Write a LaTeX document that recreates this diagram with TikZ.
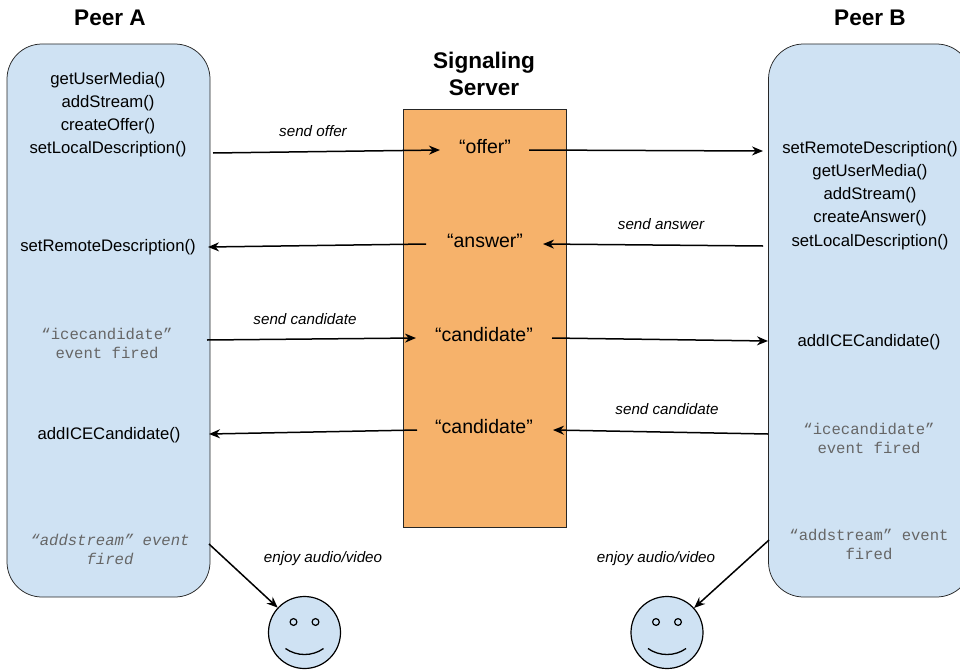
\documentclass[tikz,border=0pt]{standalone}
\usepackage{fontspec}
\setmainfont{Liberation Sans}
\setmonofont{Liberation Mono}
\usetikzlibrary{arrows.meta}
\definecolor{peerblue}{HTML}{CFE2F3}
\definecolor{serverorange}{HTML}{F6B26B}
\tikzset{x=1pt,y=-1pt,
 peer/.style={draw=black!85,line width=0.75pt,fill=peerblue,rounded corners=35pt,inner sep=0,minimum width=203pt,minimum height=553pt},
 lbl/.style={font=\fontsize{16.7}{23.1}\selectfont,align=center,inner sep=0},
 code/.style={font=\ttfamily\fontsize{15.6}{19}\selectfont,text=black!60,align=center,inner sep=0},
 caption/.style={font=\itshape\fontsize{15.2}{18}\selectfont,inner sep=0},
 head/.style={font=\bfseries\fontsize{22.6}{27}\selectfont,align=center,inner sep=0},
 msg/.style={font=\fontsize{19.5}{22}\selectfont,inner sep=0},
 link/.style={-{Stealth[length=11pt,width=9pt]},line width=1.5pt},
 face/.style={draw=black,line width=1.2pt,fill=peerblue,circle,minimum size=72pt,inner sep=0}}
\begin{document}
\begin{tikzpicture}
\useasboundingbox (0,0) rectangle (960,669);
\node[peer] (A) at (108.5,320.5) {};
\node[peer] (B) at (870,320.5) {};
\node[draw=black!85,line width=0.75pt,fill=serverorange,minimum width=163pt,minimum height=418pt,inner sep=0] (S) at (484.5,318.5) {};
\node[head] (ha) at (110,18) {Peer A};
\node[head] (hb) at (870,18) {Peer B};
\node[head] (hs) at (484,74) {Signaling\\Server};
\node[lbl] (a1) at (108,115) {getUserMedia()\\addStream()\\createOffer()\\setLocalDescription()};
\node[lbl] (a2) at (108,247.5) {setRemoteDescription()};
\node[code] (a3) at (107,343) {“icecandidate”\\event fired};
\node[lbl] (a4) at (109,435) {addICECandidate()};
\node[code] (a5) at (110,549) {\itshape “addstream” event\\\itshape fired};
\node[lbl] (b1) at (870,195.5) {setRemoteDescription()\\getUserMedia()\\addStream()\\createAnswer()\\setLocalDescription()};
\node[lbl] (b2) at (869,342.5) {addICECandidate()};
\node[code] (b3) at (869,438) {“icecandidate”\\event fired};
\node[code] (b4) at (869,544) {“addstream” event\\fired};
\node[msg] (s1) at (485,147) {“offer”};
\node[msg] (s2) at (485,241) {“answer”};
\node[msg] (s3) at (484,335) {“candidate”};
\node[msg] (s4) at (484,427) {“candidate”};
\coordinate (a1e) at (213,153);
\coordinate (s1w) at (440,150);
\coordinate (s1e) at (529,150);
\coordinate (b1w) at (763,151);
\coordinate (b2i) at (763,246);
\coordinate (s2e) at (543,244);
\coordinate (s2w) at (426,244);
\coordinate (a2e) at (208,247);
\coordinate (a3e) at (207,340);
\coordinate (s3w) at (416,338);
\coordinate (s3e) at (552,338);
\coordinate (b3w) at (768,341);
\coordinate (b4w) at (768,434);
\coordinate (s4e) at (553,430);
\coordinate (s4w) at (417,430);
\coordinate (a4e) at (209,434);
\draw[link] (a1e) -- (s1w);
\draw[link] (s1e) -- (b1w);
\draw[link] (b2i) -- (s2e);
\draw[link] (s2w) -- (a2e);
\draw[link] (a3e) -- (s3w);
\draw[link] (s3e) -- (b3w);
\draw[link] (b4w) -- (s4e);
\draw[link] (s4w) -- (a4e);
\node[caption] (c1) at (313,131) {send offer};
\node[caption] (c2) at (661,224) {send answer};
\node[caption] (c3) at (305,319) {send candidate};
\node[caption] (c4) at (667,409) {send candidate};
\node[caption] (c5) at (323,559) {enjoy audio/video};
\node[caption] (c6) at (656,559) {enjoy audio/video};
\node[face] (f1) at (304.5,632.5) {};
\node[face] (f2) at (667,632.5) {};
\coordinate (ae) at (209,544);
\coordinate (be) at (769,540);
\draw[link] (ae) -- (f1);
\draw[link] (be) -- (f2);
\foreach \f in {f1,f2}{
 \draw[line width=1.2pt] ([shift={(-11,-10.5)}]\f.center) circle (3.4pt);
 \draw[line width=1.2pt] ([shift={(11,-10.5)}]\f.center) circle (3.4pt);
 \draw[line width=1.3pt] ([shift={(-19,16)}]\f.center) .. controls ([shift={(-8,24)}]\f.center) and ([shift={(8,24)}]\f.center) .. ([shift={(19,16)}]\f.center);
}
\end{tikzpicture}
\end{document}
